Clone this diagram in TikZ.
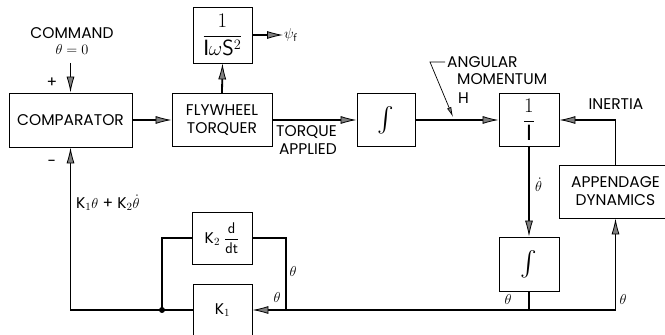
\documentclass[tikz,border=0pt]{standalone}
\usepackage{amsmath}
\usepackage{fontspec}
\setmainfont{Poppins}
\usetikzlibrary{arrows.meta, calc}
\tikzset{
  block/.style={draw, line width=0.9pt, inner sep=0pt, align=center},
  wire/.style={line width=1.8pt},
  sig/.style={wire, -{Latex[length=16pt, width=8pt, fill=gray, line width=0.8pt]}},
  leader/.style={line width=0.7pt, -{Latex[length=10pt, width=4.5pt, fill=gray]}},
  lbl/.style={inner sep=1pt},
  bigmath/.style={font=\fontsize{22}{24}\selectfont},
  intmath/.style={font=\fontsize{24}{26}\selectfont}
}

\begin{document}
\begin{tikzpicture}[x=1pt, y=1pt, every node/.append style={font=\fontsize{15.5}{18}\selectfont}]
  \useasboundingbox (0,0) rectangle (665,335);
  \clip (0,0) rectangle (665,335);

  % ── Forward path ─────────────────────────────────────────────────
  \node[block, minimum width=123pt, minimum height=54pt] (comp) at (70.5,215) {COMPARATOR};
  \node[block, minimum width=100pt, minimum height=53pt] (fly)  at (222,215)  {FLYWHEEL\\TORQUER};
  \node[block, bigmath, minimum width=59pt, minimum height=56pt] (inv) at (222.5,300)
    {$\dfrac{1}{\mathrm{I}\omega\mathsf{S}^2}$};
  \node[block, intmath, minimum width=58pt, minimum height=53pt] (int1) at (386,215) {$\int$};
  \node[block, bigmath, minimum width=60pt, minimum height=53pt] (invI) at (529,215) {$\dfrac{1}{\mathrm{I}}$};
  \node[lbl, anchor=west] (psi) at (283,300) {$\psi_{\mathsf f}$};

  % ── Appendage and rate integration ───────────────────────────────
  \node[block, minimum width=113pt, minimum height=53pt] (app) at (615.5,143.5) {APPENDAGE\\DYNAMICS};
  \node[block, intmath, minimum width=60pt, minimum height=54pt] (int2) at (529,71) {$\int$};

  % ── Feedback gains ───────────────────────────────────────────────
  \node[block, minimum width=60pt, minimum height=52pt] (kd) at (222,97)
    {K$_2$ $\dfrac{\mathsf d}{\mathsf{dt}}$};
  \node[block, minimum width=59pt, minimum height=52pt] (k1) at (222.5,25) {K$_1$};

  \coordinate (cmd)    at (70.5,272);
  \coordinate (jl)     at (162,25);
  \coordinate (jr)     at (286,25);
  \coordinate (tap)    at (int2.south |- k1.east);
  \coordinate (corner) at (app.south |- k1.east);
  \coordinate (hA)     at (445,273);
  \coordinate (hB)     at (430,273);
  \coordinate (hC)     at (453,218);

  % connectors
  \draw[sig]  (cmd) -- (comp.north);
  \draw[sig]  (comp.east) -- (fly.west);
  \draw[sig]  (fly.north) -- (inv.south);
  \draw[sig]  (inv.east) -- (psi.west);
  \draw[sig]  (fly.east) -- (int1.west);
  \draw[sig]  (int1.east) -- (invI.west);
  \draw[sig]  (app.north) |- (invI.east);
  \draw[sig]  (invI.south) -- (int2.north);
  \draw[wire] (int2.south) -- (tap);
  \draw[sig]  (corner) -- (app.south);
  \draw[sig]  (corner) -- (k1.east);
  \draw[sig]  (k1.west) -| (comp.south);
  \draw[wire] (jl) |- (kd.west);
  \draw[wire] (kd.east) -| (jr);
  \fill (jl) circle (3pt);
  \draw[leader] (hA) -- (hB) -- (hC);

  % labels
  \node[lbl] (cmdtxt) at (72,302) {COMMAND};
  \node[lbl] (cmdval) at (72,285) {$\theta = 0$};
  \node[lbl] (plus)   at (52,252) {+};
  \node[lbl] (minus)  at (52,172) {-};
  \node[lbl, align=right, anchor=north west] (torq) at (275,211) {TORQUE\\APPLIED};
  \node[lbl, anchor=west] (ang) at (446,273) {ANGULAR};
  \node[lbl, anchor=west] (mom) at (456,256) {MOMENTUM};
  \node[lbl, anchor=west] (hh)  at (457,237) {H};
  \node[lbl] (inert) at (616,231) {INERTIA};
  \node[lbl, anchor=west] (rate) at (534,150) {$\dot{\theta}$};
  \node[lbl, anchor=west] (fbk)  at (75,132) {K$_1\theta$ + K$_2\dot{\theta}$};
  \foreach \x/\y/\nm in {508/35/tha, 623/35/thb, 293/63/thc, 277/37/thd}
    { \node[lbl] (\nm) at (\x,\y) {$\theta$}; }
\end{tikzpicture}
\end{document}
